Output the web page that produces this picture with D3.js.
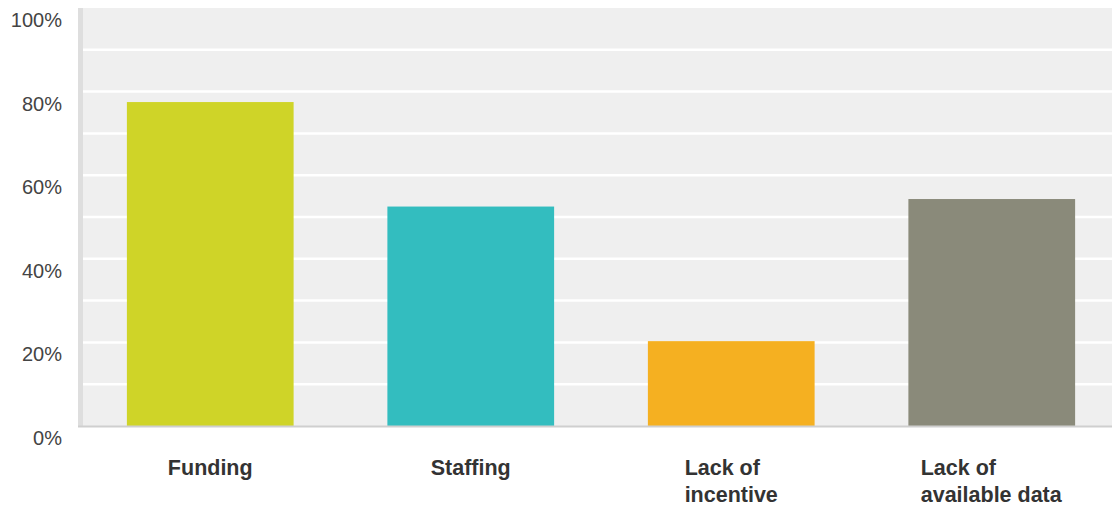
<!DOCTYPE html>
<html>
<head>
<meta charset="utf-8">
<script src="https://cdn.jsdelivr.net/npm/d3@7"></script>
<style>
  body { margin: 0; background: #fff; }
  svg { display: block; font-family: "Liberation Sans", Arial, sans-serif; }
</style>
</head>
<body>
<div id="chart"></div>
<script>
// chart values
const categories = ["Funding", "Staffing", "Lack of incentive", "Lack of available data"];
const labelLines = [["Funding"], ["Staffing"], ["Lack of", "incentive"], ["Lack of", "available data"]];
const values = [77.5, 52.5, 20.3, 54.3];
const barColors = ["#cfd428", "#33bdbf", "#f5b021", "#8a8a7a"];
const tickValues = [0, 20, 40, 60, 80, 100];
const gridValues = [10, 20, 30, 40, 50, 60, 70, 80, 90];

const width = 1112, height = 508;
const plotLeft = 80, plotRight = 1122, plotTop = 8, plotBottom = 426;

const svg = d3.select("#chart").append("svg")
    .attr("width", width)
    .attr("height", height);

const x = d3.scaleBand()
    .domain(categories)
    .range([plotLeft, plotRight])
    .paddingInner(0.36)
    .paddingOuter(0.18);

const y = d3.scaleLinear()
    .domain([0, 100])
    .range([plotBottom, plotTop]);

// plot background
svg.append("rect")
    .attr("x", plotLeft)
    .attr("y", plotTop)
    .attr("width", plotRight - plotLeft)
    .attr("height", plotBottom - plotTop)
    .attr("fill", "#efefef");

// left edge strip
svg.append("rect")
    .attr("x", plotLeft - 2)
    .attr("y", plotTop)
    .attr("width", 5)
    .attr("height", plotBottom - plotTop)
    .attr("fill", "#dedede");

// gridlines
svg.append("g")
    .selectAll("line")
    .data(gridValues)
    .enter()
    .append("line")
    .attr("x1", plotLeft + 3)
    .attr("x2", plotRight)
    .attr("y1", d => y(d))
    .attr("y2", d => y(d))
    .attr("stroke", "#ffffff")
    .attr("stroke-width", 2.5);

// bars
svg.append("g")
    .selectAll("rect")
    .data(values)
    .enter()
    .append("rect")
    .attr("x", (d, i) => x(categories[i]))
    .attr("y", d => y(d))
    .attr("width", x.bandwidth())
    .attr("height", d => y(0) - y(d))
    .attr("fill", (d, i) => barColors[i]);

// baseline
svg.append("line")
    .attr("x1", plotLeft - 2)
    .attr("x2", plotRight)
    .attr("y1", y(0) + 0.5)
    .attr("y2", y(0) + 0.5)
    .attr("stroke", "#cfcfcf")
    .attr("stroke-width", 2);

// y tick labels (sit a bit below their lines, like the original)
const yAxis = d3.axisLeft(y)
    .tickValues(tickValues)
    .tickFormat(d => d + "%")
    .tickSize(0)
    .tickPadding(0);

const yg = svg.append("g")
    .attr("transform", "translate(62,12)")
    .call(yAxis);
yg.select(".domain").remove();
yg.selectAll("text")
    .attr("font-size", "20px")
    .attr("font-family", "'Liberation Sans', Arial, sans-serif")
    .attr("fill", "#444");

// category labels: left-aligned lines, block centred under the bar
const lg = svg.append("g");
labelLines.forEach((lines, i) => {
    const cx = x(categories[i]) + x.bandwidth() / 2;
    const t = lg.append("text")
        .attr("font-size", "21.5px")
        .attr("font-weight", "bold")
        .attr("fill", "#333");
    lines.forEach((s, j) => {
        t.append("tspan")
            .attr("x", 0)
            .attr("y", 475 + j * 27)
            .text(s);
    });
    const w = t.node().getBBox().width;
    t.attr("transform", "translate(" + (cx - w / 2) + ",0)");
});
</script>
</body>
</html>
